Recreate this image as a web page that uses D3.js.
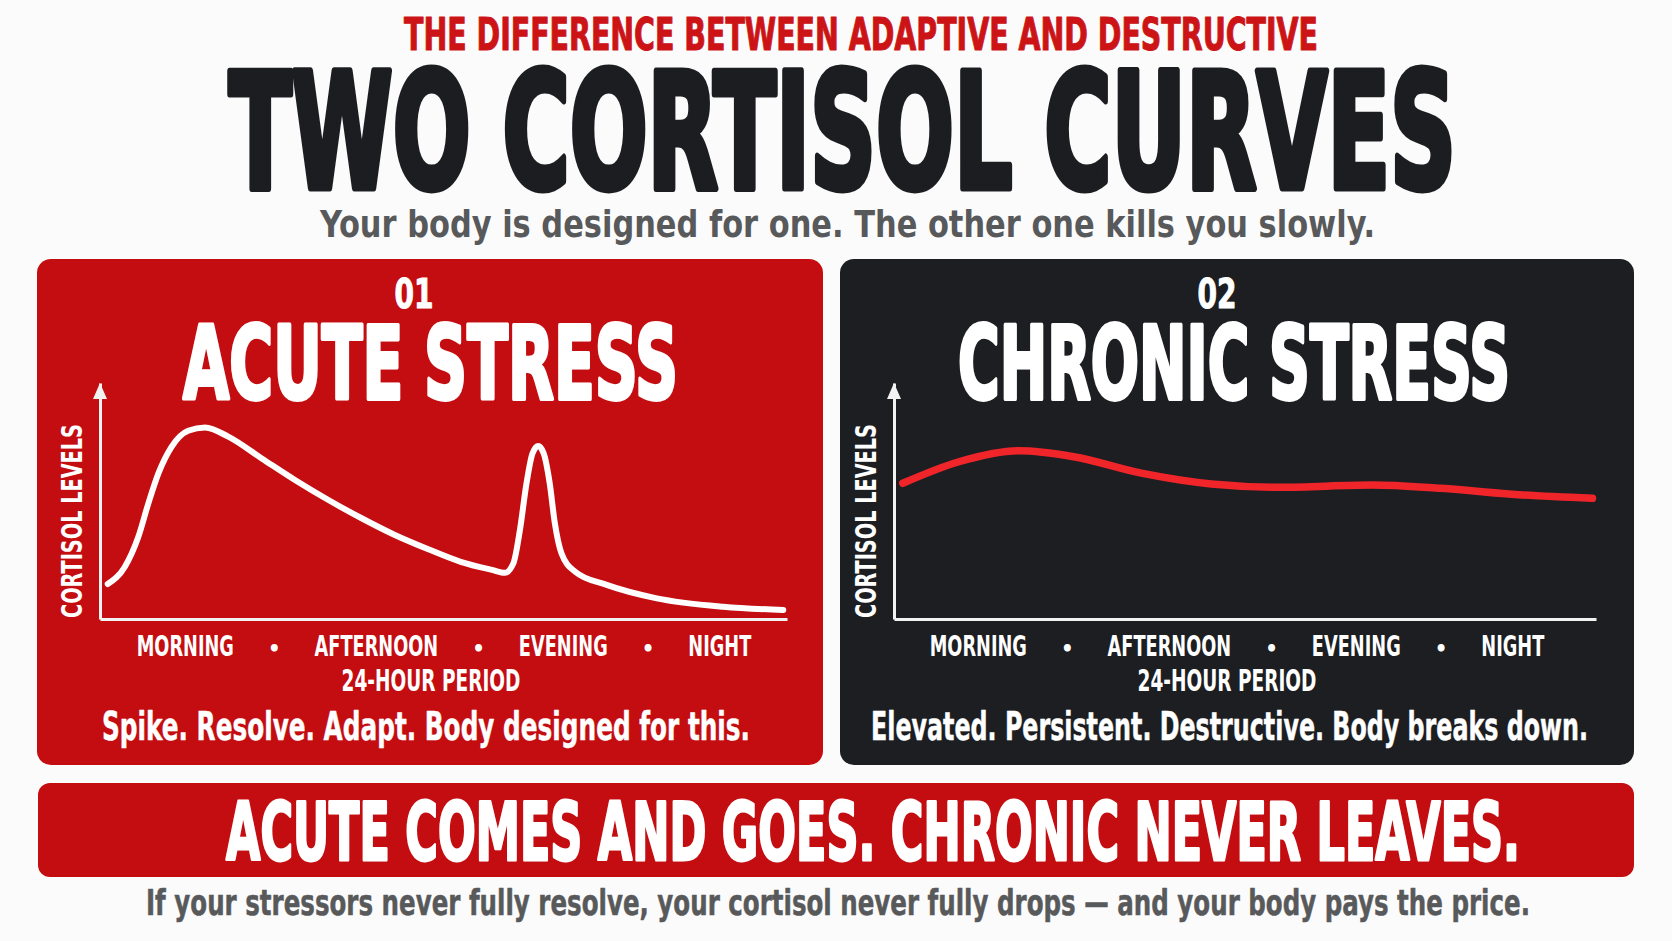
<!DOCTYPE html>
<meta charset="utf-8">
<script src="https://d3js.org/d3.v7.min.js"></script>
<style>
  body { margin: 0; background: #fbfbfb; }
  text { font-family: "Liberation Sans Narrow", "DejaVu Sans Condensed", sans-serif; font-weight: bold; }
</style>
<div id="chart"></div>
<script>
// ---- data ----
const periodLabels = ["MORNING", "•", "AFTERNOON", "•", "EVENING", "•", "NIGHT"];

// acute stress: morning peak, resolve, short evening spike, resolve
const acuteHours  = [0.27, 0.87, 1.34, 1.69, 2.04, 2.5, 3.08, 3.67, 4.48, 5.65, 6.81, 7.98, 9.14, 10.3, 11.47, 12.6, 13.7, 14.15,
                     14.44, 14.67, 14.9, 15.11, 15.31, 15.5, 15.71, 15.89, 16.12, 16.6, 17.7, 19.45, 21.77, 23.87];
const acuteLevels = [15.9, 23.8, 37.4, 52.6, 66.2, 78.3, 85.6, 87.1, 82.9, 73, 63.2, 54.1, 45.8, 38.2, 31.7, 26, 22.3, 21,
                     25.3, 40.5, 61.7, 75.3, 78.6, 75.3, 61.7, 43.5, 29.9, 21.5, 15.5, 9.4, 5.6, 4.1];

// chronic stress: stays elevated all day
const chronicHours  = [0.3, 2.22, 4.26, 6.14, 8.5, 10.85, 13.2, 16.35, 18.7, 21.5, 23.88];
const chronicLevels = [61.7, 71.5, 76.5, 73.8, 66.2, 61.4, 59.9, 60.9, 59.4, 56.4, 54.9];

const W = 1672, H = 941;
const red = "#c40d11", dark = "#1c1e22";

const svg = d3.select("#chart").append("svg")
    .attr("width", W).attr("height", H)
    .style("display", "block");

svg.append("rect").attr("width", W).attr("height", H).attr("fill", "#fbfbfb");

// squeeze text to a given width (condensed look)
function fit(sel, len) {
    return sel.attr("textLength", len).attr("lengthAdjust", "spacingAndGlyphs");
}
function label(g, txt, x, y, size, color, len, anchor, heavy) {
    const t = g.append("text").text(txt)
        .attr("x", x).attr("y", y)
        .attr("font-size", size)
        .attr("fill", color)
        .attr("text-anchor", anchor || "start");
    if (len) fit(t, len);
    if (heavy) t.attr("stroke", color).attr("stroke-width", heavy).attr("stroke-linejoin", "round");
    return t;
}

// ---- header ----
label(svg, "THE DIFFERENCE BETWEEN ADAPTIVE AND DESTRUCTIVE", 404, 50, 44, "#cc1417", 914, "start", 1);
label(svg, "TWO CORTISOL CURVES", 229, 188, 160, "#1c1d20", 1227, "start", 7);
label(svg, "Your body is designed for one. The other one kills you slowly.", 320, 237, 38, "#58595b", 1055);

// ---- panels ----
const panels = [
    {x: 37, w: 786, fill: red, num: "01", numX: 414, title: "ACUTE STRESS", titleX: 183, titleW: 495,
     ax0: 100, ax1: 787, hours: acuteHours, levels: acuteLevels, lineColor: "#ffffff", lineW: 6,
     labCx: 444, subX: 431, caption: "Spike. Resolve. Adapt. Body designed for this.", capX: 102, capW: 648},
    {x: 840, w: 794, fill: dark, num: "02", numX: 1217, title: "CHRONIC STRESS", titleX: 958, titleW: 552,
     ax0: 894, ax1: 1596, hours: chronicHours, levels: chronicLevels, lineColor: "#f0252a", lineW: 7.5,
     labCx: 1237, subX: 1227, caption: "Elevated. Persistent. Destructive. Body breaks down.", capX: 871, capW: 717}
];

const y = d3.scaleLinear().domain([0, 107.3]).range([619, 383]);

panels.forEach(p => {
    const g = svg.append("g");
    g.append("rect")
        .attr("x", p.x).attr("y", 259)
        .attr("width", p.w).attr("height", 506)
        .attr("rx", 14).attr("fill", p.fill);

    label(g, p.num, p.numX, 308, 40, "#fff", 39, "middle", 1);
    label(g, p.title, p.titleX, 399, 102, "#fff", p.titleW, "start", 4);

    const x = d3.scaleLinear().domain([0, 24]).range([p.ax0, p.ax1]);

    // axes: bare lines, no ticks
    const xAxis = g.append("g")
        .attr("transform", `translate(0, ${y(0)})`)
        .call(d3.axisBottom(x).tickValues([]).tickSizeOuter(0));
    const yAxis = g.append("g")
        .attr("transform", `translate(${p.ax0}, 0)`)
        .call(d3.axisLeft(y).tickValues([]).tickSizeOuter(0));
    [xAxis, yAxis].forEach(a => a.select(".domain")
        .attr("stroke", "#f2f2f2").attr("stroke-width", 3));

    // arrowhead on the y axis
    const top = y(y.domain()[1]);
    g.append("path")
        .attr("d", `M${p.ax0},${top} L${p.ax0 - 7},${top + 16} L${p.ax0 + 7},${top + 16} Z`)
        .attr("fill", "#f2f2f2");

    g.append("text")
        .text("CORTISOL LEVELS")
        .attr("transform", `translate(${p.ax0 - 18}, 521) rotate(-90)`)
        .attr("text-anchor", "middle")
        .attr("font-family", "'Liberation Sans', Arial, sans-serif")
        .attr("font-size", 28)
        .attr("fill", "#fff")
        .call(fit, 194);

    const pts = p.hours.map((h, i) => [h, p.levels[i]]);
    const line = d3.line()
        .x(d => x(d[0]))
        .y(d => y(d[1]))
        .curve(d3.curveMonotoneX);

    g.append("path")
        .datum(pts)
        .attr("d", line)
        .attr("fill", "none")
        .attr("stroke", p.lineColor)
        .attr("stroke-width", p.lineW)
        .attr("stroke-linecap", "round")
        .attr("stroke-linejoin", "round");

    // period labels, laid out inline with equal gaps
    const gap = 34;
    const items = g.selectAll(".period")
        .data(periodLabels)
        .join("text")
        .attr("class", "period")
        .attr("y", 656)
        .attr("text-anchor", "middle")
        .attr("font-size", d => d === "•" ? 22 : 29)
        .attr("fill", "#fff")
        .text(d => d);
    const widths = [];
    items.each(function(d) {
        let len = this.getComputedTextLength();
        if (d !== "•") { len *= 0.68; d3.select(this).call(fit, len); }
        widths.push(len);
    });
    const total = d3.sum(widths) + gap * (widths.length - 1);
    let cur = p.labCx - total / 2;
    const xs = widths.map(w => { const c = cur + w / 2; cur += w + gap; return c; });
    items.attr("x", (d, i) => xs[i]);

    label(g, "24-HOUR PERIOD", p.subX, 691, 30, "#fff", 179, "middle");
    label(g, p.caption, p.capX, 740, 39, "#fff", p.capW, "start", 0.5);
});

// ---- bottom banner ----
svg.append("rect")
    .attr("x", 38).attr("y", 783)
    .attr("width", 1596).attr("height", 94)
    .attr("rx", 12).attr("fill", red);
label(svg, "ACUTE COMES AND GOES. CHRONIC NEVER LEAVES.", 226, 860, 80, "#fff", 1294, "start", 3);

label(svg, "If your stressors never fully resolve, your cortisol never fully drops — and your body pays the price.",
    146, 915, 35, "#58595b", 1384, "start", 0.5);
</script>
